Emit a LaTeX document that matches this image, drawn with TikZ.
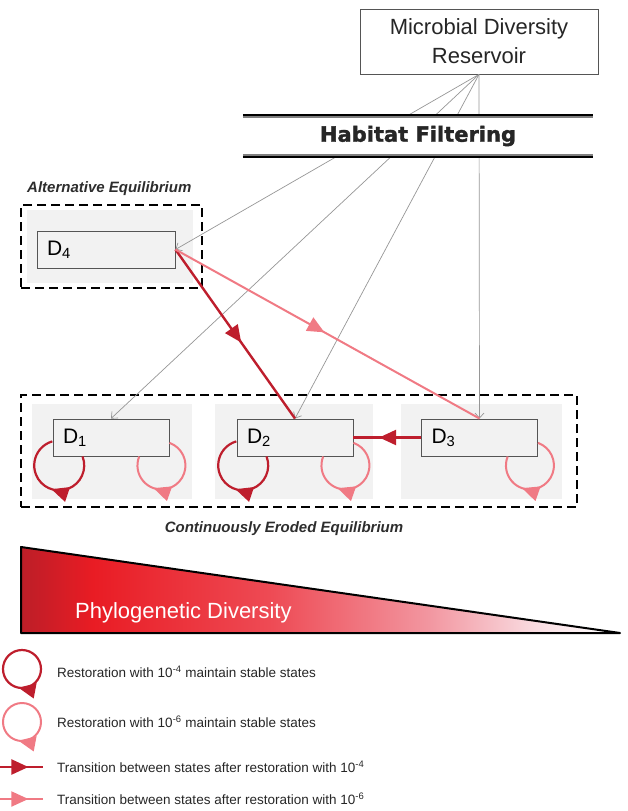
\documentclass[tikz,border=0pt]{standalone}
\usepackage{fontspec}
\setmainfont{Liberation Sans}
\newfontfamily\heavyfont{DejaVu Sans Bold}[FakeBold=1.6]
\usetikzlibrary{arrows.meta, positioning, decorations.markings}

\definecolor{restdark}{RGB}{190, 30, 45}
\definecolor{restlight}{RGB}{240, 122, 132}
\definecolor{linkgray}{RGB}{150, 150, 150}
\definecolor{panelbg}{RGB}{242, 242, 242}
\definecolor{boxedge}{RGB}{85, 85, 85}
\definecolor{labelgray}{RGB}{45, 45, 45}
\definecolor{phyA}{RGB}{188, 30, 40}
\definecolor{phyB}{RGB}{233, 28, 36}
\definecolor{phyC}{RGB}{238, 75, 85}
\definecolor{phyD}{RGB}{242, 150, 160}
\definecolor{phyE}{RGB}{249, 220, 225}

\pgfdeclarehorizontalshading{phylo}{100bp}{color(0bp)=(phyA); color(25bp)=(phyA); color(31bp)=(phyB); color(46bp)=(phyC); color(59bp)=(phyD); color(68bp)=(phyE); color(74bp)=(white); color(100bp)=(white)}

\tikzset{
  panel/.style={fill=panelbg, inner sep=0pt},
  stategroup/.style={draw=black, line width=2.2pt, dash pattern=on 9pt off 5pt, inner sep=0pt},
  statebox/.style={draw=boxedge, fill=panelbg, line width=0.9pt, minimum height=37pt, inner xsep=10pt, inner ysep=0pt, text width=96pt, align=left, font=\fontsize{21}{21}\selectfont},
  feed/.style={draw=linkgray, line width=0.7pt, -{Straight Barb[length=5pt, width=9pt]}},
  midarrow/.style={postaction={decorate}, decoration={markings, mark=at position #1 with {\arrow{Triangle[length=17pt, width=15pt]}}}},
  darkline/.style={draw=restdark, line width=2.4pt},
  lightline/.style={draw=restlight, line width=2pt},
  grouplabel/.style={font=\fontsize{15}{15}\selectfont\bfseries\itshape, text=labelgray, inner sep=0pt},
  legendtext/.style={anchor=west, inner sep=0pt, font=\fontsize{13.5}{16}\selectfont, text=black!85}
}

\begin{document}
\begin{tikzpicture}[x=1pt, y=-1pt]
  \useasboundingbox (0,0) rectangle (627,811);

  % Alternative equilibrium
  \node[panel, minimum width=166pt, minimum height=73pt] (d4panel) at (110,246.5) {};
  \node[stategroup, minimum width=181pt, minimum height=83pt] (altgroup) at (111.5,246.5) {};
  \node[statebox, text width=118pt] (d4) at (106,249.5) {D\textsubscript{4}};
  \node[grouplabel, anchor=west] (altlabel) at (27,189) {Alternative Equilibrium};

  % Continuously eroded equilibrium
  \node[panel, minimum width=160pt, minimum height=95pt] (d1panel) at (112,451.5) {};
  \node[panel, minimum width=158pt, minimum height=95pt] (d2panel) at (294,451.5) {};
  \node[panel, minimum width=161pt, minimum height=95pt] (d3panel) at (481.5,451.5) {};
  \node[stategroup, minimum width=556pt, minimum height=112pt] (erodgroup) at (299,451) {};
  \node[statebox] (d1) at (111,437.5) {D\textsubscript{1}};
  \node[statebox] (d2) at (295,437.5) {D\textsubscript{2}};
  \node[statebox] (d3) at (479.5,437.5) {D\textsubscript{3}};
  \node[grouplabel] (erodlabel) at (284,529) {Continuously Eroded Equilibrium};

  % Reservoir
  \node[draw=boxedge, fill=white, line width=0.8pt, minimum width=238pt, minimum height=65pt, align=center, text=black!85, font=\fontsize{22}{29}\selectfont] (reservoir) at (479,41.5) {Microbial Diversity\\Reservoir};

  \foreach \target/\side in {d4/east, d1/north, d2/north, d3/north}
    \draw[feed] (reservoir.south) -- (\target.\side);

  % Transitions
  \draw[darkline, midarrow=0.55] (d4.east) -- (d2.north);
  \draw[lightline, midarrow=0.49] (d4.east) -- (d3.north);
  \draw[darkline, midarrow=0.62] (d3.west) -- (d2.east);

  % Filter
  \node[fill=white, minimum width=350pt, minimum height=38pt, inner sep=0pt, text=black!85, font=\heavyfont\fontsize{21}{21}\selectfont] (filter) at (418,136) {Habitat Filtering};
  \draw[line width=2pt] ([yshift=1.6pt]filter.north west) -- ([yshift=1.6pt]filter.north east);
  \draw[gray, line width=1.5pt] ([yshift=-0.2pt]filter.north west) -- ([yshift=-0.2pt]filter.north east);
  \draw[gray, line width=1.5pt] ([yshift=0.4pt]filter.south west) -- ([yshift=0.4pt]filter.south east);
  \draw[line width=2pt] ([yshift=-1.4pt]filter.south west) -- ([yshift=-1.4pt]filter.south east);

  % Restoration loops
  \foreach \s in {d1, d2}
    \draw[darkline, line width=2.2pt, midarrow=0.47] ([xshift=30pt]\s.south west) arc[start angle=21, end angle=-254, radius=25pt];
  \foreach \s in {d1, d2, d3}
    \draw[lightline, midarrow=0.66] ([yshift=13.6pt]\s.south east) arc[start angle=70.5, end angle=-202, radius=24pt];

  % Phylogenetic diversity
  \draw[shade, shading=phylo, line width=2pt, line join=round] (21,547) coordinate (wedgetop) -- (620,633) coordinate (wedgetip) -- (21,633) coordinate (wedgebase) -- cycle;
  \node[anchor=west, inner sep=0pt, text=white, font=\fontsize{22}{22}\selectfont] (phylotext) at (75,613) {Phylogenetic Diversity};

  % Legend
  \coordinate (legdark) at (22,669);
  \coordinate (leglight) at (22,722);
  \draw[darkline, line width=2.2pt, midarrow=0.53] ([yshift=19pt]legdark) arc[start angle=90, end angle=-270, radius=19pt];
  \draw[lightline, midarrow=0.53] ([yshift=19pt]leglight) arc[start angle=90, end angle=-270, radius=19pt];
  \node[legendtext] (legA) at (57,672) {Restoration with 10\textsuperscript{-4} maintain stable states};
  \node[legendtext] (legB) at (57,722) {Restoration with 10\textsuperscript{-6} maintain stable states};

  \coordinate (legfromC) at (0,767);
  \coordinate (legtoC) at (43,767);
  \coordinate (legfromD) at (0,799);
  \coordinate (legtoD) at (43,799);
  \draw[darkline, midarrow=0.66] (legfromC) -- (legtoC);
  \draw[lightline, midarrow=0.66] (legfromD) -- (legtoD);
  \node[legendtext] (legC) at (57,767) {Transition between states after restoration with 10\textsuperscript{-4}};
  \node[legendtext] (legD) at (57,799) {Transition between states after restoration with 10\textsuperscript{-6}};
\end{tikzpicture}
\end{document}
